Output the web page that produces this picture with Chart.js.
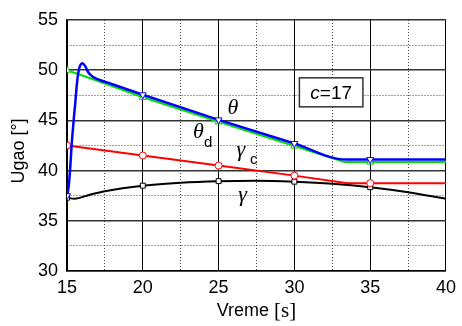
<!DOCTYPE html>
<html>
<head>
<meta charset="utf-8">
<script src="https://cdn.jsdelivr.net/npm/chart.js@4"></script>
<style>
  html, body { margin: 0; padding: 0; background: #fff; }
  #wrap { width: 462px; height: 326px; }
</style>
</head>
<body>
<div id="wrap"><canvas id="chart" width="462" height="326"></canvas></div>
<script>
// DATA
const xTicks = [15, 20, 25, 30, 35, 40];
const yTicks = [30, 35, 40, 45, 50, 55];
const markerTimes = [15, 20, 25, 30, 35];

// theta (blue)
const thetaT = [15, 15.1, 15.2, 15.3, 15.45, 15.56, 15.65, 15.74, 15.85, 16.02, 16.2, 16.4, 16.7, 17.2, 17.8, 20, 25, 30, 33.4, 35, 40];
const thetaV = [37.5, 38.3, 40, 42.4, 45.2, 47, 48.6, 49.7, 50.4, 50.7, 50.4, 49.8, 49.35, 49.0, 48.7, 47.55, 45.05, 42.7, 41.1, 41.1, 41.1];
// theta_d (green)
const thetaDT = [15, 17, 20, 25, 30, 33.3, 35, 40];
const thetaDV = [50, 48.95, 47.3, 44.85, 42.45, 40.85, 40.85, 40.85];
// gamma_c (red)
const gammaCT = [15, 20, 25, 30, 33.5, 35, 40];
const gammaCV = [42.5, 41.5, 40.5, 39.5, 38.75, 38.75, 38.75];
// gamma (black)
const gammaT = [15, 15.5, 16.5, 17.5, 20, 22.5, 25, 27.5, 30, 32.5, 35, 37.5, 40];
const gammaV = [37.3, 37.2, 37.6, 37.95, 38.5, 38.8, 38.95, 39.0, 38.9, 38.7, 38.35, 37.85, 37.2];

const toPts = (ts, vs) => ts.map((t, i) => ({ x: t, y: vs[i] }));
const markerRadius = (r) => (ctx) => (ctx.raw && markerTimes.includes(ctx.raw.x) ? r : 0);

const SANS = "'Liberation Sans', Arial, sans-serif";
const SERIF = "'Liberation Serif', 'Times New Roman', serif";

// labels, box and axis titles drawn on top
const extras = {
  id: 'extras',
  afterDraw(chart) {
    const c = chart.ctx;
    const xs = chart.scales.x, ys = chart.scales.y;
    const px = (v) => xs.getPixelForValue(v);
    const py = (v) => ys.getPixelForValue(v);
    c.save();
    c.fillStyle = '#000';
    c.textBaseline = 'middle';
    c.textAlign = 'center';

    // curve labels
    c.font = "italic 22px " + SERIF;
    c.fillText('θ', px(25.94), py(46.24));
    c.fillText('θ', px(23.66), py(43.84));
    c.fillText('γ', px(26.46), py(42.05));
    c.fillText('γ', px(26.59), py(37.57));
    c.font = "15px " + SANS;
    c.fillText('d', px(23.66) + 10, py(43.84) + 11);
    c.fillText('c', px(26.46) + 13, py(42.05) + 10);

    // c=17 box
    const bx0 = px(30.33), bx1 = px(34.52), by0 = py(49.24), by1 = py(46.35);
    c.fillStyle = '#fff';
    c.fillRect(bx0, by0, bx1 - bx0, by1 - by0);
    c.strokeStyle = '#333';
    c.lineWidth = 1.5;
    c.strokeRect(bx0, by0, bx1 - bx0, by1 - by0);
    c.fillStyle = '#000';
    c.textAlign = 'left';
    c.font = "italic 19px " + SANS;
    const cw = c.measureText('c').width;
    c.font = "19px " + SANS;
    const rw = c.measureText('=17').width;
    const tx = (bx0 + bx1) / 2 - (cw + rw) / 2;
    const ty = (by0 + by1) / 2 + 1;
    c.font = "italic 19px " + SANS;
    c.fillText('c', tx, ty);
    c.font = "19px " + SANS;
    c.fillText('=17', tx + cw, ty);

    // x title: Vreme [s]
    c.font = "18px " + SANS;
    const w1 = c.measureText('Vreme ').width;
    c.font = "21px " + SERIF;
    const w2 = c.measureText('[s]').width;
    const cx = (chart.chartArea.left + chart.chartArea.right) / 2;
    const sx = cx - (w1 + w2) / 2;
    c.font = "18px " + SANS;
    c.fillText('Vreme ', sx, 311);
    c.font = "21px " + SERIF;
    c.fillText('[s]', sx + w1, 311);

    // y title
    c.translate(19, 151);
    c.rotate(-Math.PI / 2);
    c.textAlign = 'center';
    c.font = "18px " + SANS;
    c.fillText('Ugao [°]', 0, 0);
    c.restore();
  }
};

const isMajor = (ctx) => ctx.tick && ctx.tick.value % 5 === 0;
const gridDash = (ctx) => (ctx.tick && !isMajor(ctx) ? [1, 2] : []);

new Chart(document.getElementById('chart'), {
  type: 'line',
  data: {
    datasets: [
      {
        label: 'theta',
        data: toPts(thetaT, thetaV),
        borderColor: '#0000ff',
        borderWidth: 2.5,
        cubicInterpolationMode: 'monotone',
        pointStyle: 'triangle',
        rotation: 180,
        pointRadius: markerRadius(4),
        pointBackgroundColor: '#fff',
        pointBorderColor: '#0000ff',
        pointBorderWidth: 1
      },
      {
        label: 'theta_d',
        data: toPts(thetaDT, thetaDV),
        borderColor: '#00e000',
        borderWidth: 2,
        tension: 0,
        pointStyle: 'triangle',
        pointRadius: markerRadius(4),
        pointBackgroundColor: '#fff',
        pointBorderColor: '#00c000',
        pointBorderWidth: 1
      },
      {
        label: 'gamma_c',
        data: toPts(gammaCT, gammaCV),
        borderColor: '#ff0000',
        borderWidth: 2,
        tension: 0,
        pointStyle: 'circle',
        pointRadius: markerRadius(3.5),
        pointBackgroundColor: '#fff',
        pointBorderColor: '#ff0000',
        pointBorderWidth: 1
      },
      {
        label: 'gamma',
        data: toPts(gammaT, gammaV),
        borderColor: '#000',
        borderWidth: 2,
        cubicInterpolationMode: 'monotone',
        pointStyle: 'rect',
        pointRadius: markerRadius(3.5),
        pointBackgroundColor: '#fff',
        pointBorderColor: '#000',
        pointBorderWidth: 1
      }
    ]
  },
  options: {
    responsive: false,
    animation: false,
    events: [],
    layout: { padding: { top: 20, right: 11, left: 0, bottom: 0 } },
    plugins: { legend: { display: false }, tooltip: { enabled: false } },
    scales: {
      x: {
        type: 'linear',
        min: 15,
        max: 40,
        afterFit: (s) => { s.height = 55; },
        afterBuildTicks: (s) => {
          s.ticks = [];
          for (let v = 15; v <= 40; v += 2.5) s.ticks.push({ value: v });
        },
        ticks: {
          color: '#000',
          font: { family: SANS, size: 18 },
          padding: 6,
          maxRotation: 0,
          autoSkip: false,
          callback: (v) => (xTicks.includes(v) ? String(v) : '')
        },
        grid: {
          drawTicks: false,
          color: (ctx) => (isMajor(ctx) ? '#000' : '#444'),
          lineWidth: 1
        },
        border: { color: '#000', width: 1.5, dash: gridDash }
      },
      y: {
        min: 30,
        max: 55,
        afterFit: (s) => { s.width = 67; },
        afterBuildTicks: (s) => {
          s.ticks = [];
          for (let v = 30; v <= 55; v += 2.5) s.ticks.push({ value: v });
        },
        ticks: {
          color: '#000',
          font: { family: SANS, size: 18 },
          padding: 9,
          autoSkip: false,
          callback: (v) => (yTicks.includes(v) ? String(v) : '')
        },
        grid: {
          drawTicks: false,
          color: (ctx) => (isMajor(ctx) ? '#333' : '#444'),
          lineWidth: (ctx) => (isMajor(ctx) ? 1.5 : 1)
        },
        border: { color: '#000', width: 1.5, dash: gridDash }
      }
    }
  },
  plugins: [extras]
});
</script>
</body>
</html>
